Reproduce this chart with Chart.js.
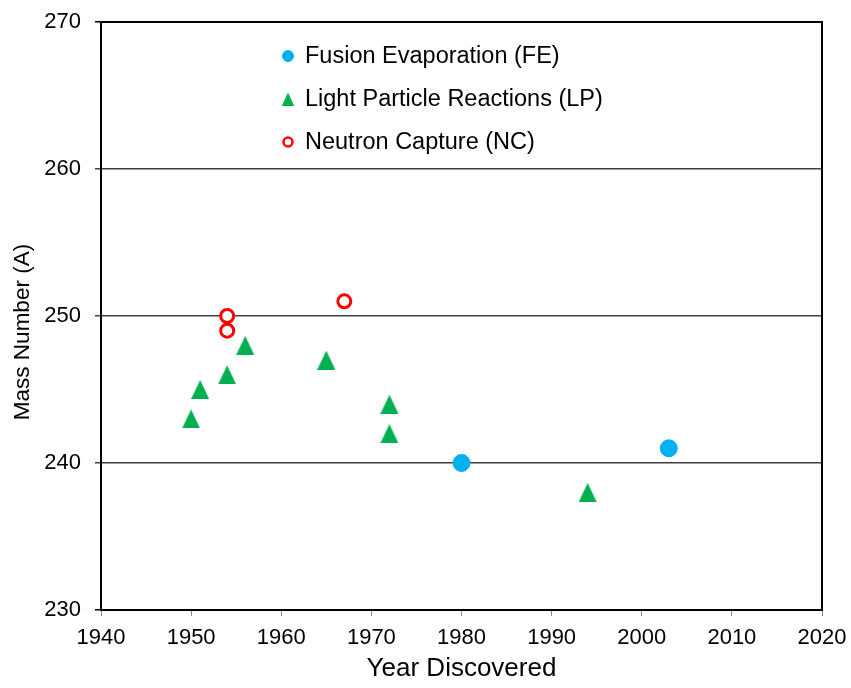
<!DOCTYPE html>
<html lang="en">
<head>
  <meta charset="UTF-8">
  <title>Mass Number vs Year Discovered</title>
  <script src="https://cdn.jsdelivr.net/npm/chart.js"></script>
  <style>
    html, body { margin: 0; padding: 0; background: #fff; }
    #wrap { width: 851px; height: 688px; }
  </style>
</head>
<body>
  <div id="wrap"><canvas id="chart"></canvas></div>
  <script>
    // Data
    const seriesNames = ['Fusion Evaporation (FE)', 'Light Particle Reactions (LP)', 'Neutron Capture (NC)'];
    const feYears = [1980, 2003];
    const feMass = [240, 241];
    const lpYears = [1950, 1951, 1954, 1956, 1965, 1972, 1972, 1994];
    const lpMass = [243, 245, 246, 248, 247, 244, 242, 238];
    const ncYears = [1954, 1954, 1967];
    const ncMass = [250, 249, 251];
    const xTicks = [1940, 1950, 1960, 1970, 1980, 1990, 2000, 2010, 2020];
    const yTicks = [230, 240, 250, 260, 270];

    const FONT = "'Liberation Sans', Arial, sans-serif";
    const toPoints = (xs, ys) => xs.map((x, i) => ({ x: x, y: ys[i] }));

    // Spreadsheet-style triangle marker (box centred, slightly taller than wide)
    function triangleMarker(w, h, color) {
      const c = document.createElement('canvas');
      c.width = w; c.height = h;
      const g = c.getContext('2d');
      g.fillStyle = color;
      g.beginPath();
      g.moveTo(w / 2, 0);
      g.lineTo(w, h);
      g.lineTo(0, h);
      g.closePath();
      g.fill();
      return c;
    }
    const lpMarker = triangleMarker(18, 19, '#00b050');
    const lpLegendMarker = triangleMarker(12, 13, '#00b050');

    // Box around the plot area + y title placed like the original
    const frame = {
      id: 'frame',
      afterDraw(chart) {
        const a = chart.chartArea, ctx = chart.ctx;
        ctx.save();
        ctx.strokeStyle = '#000';
        ctx.lineWidth = 2;
        ctx.strokeRect(a.left, a.top, a.right - a.left, a.bottom - a.top);
        ctx.translate(23, (a.top + a.bottom) / 2 + 16);
        ctx.rotate(-Math.PI / 2);
        ctx.font = '22.5px ' + FONT;
        ctx.fillStyle = '#000';
        ctx.textAlign = 'center';
        ctx.textBaseline = 'middle';
        ctx.fillText('Mass Number (A)', 0, 0);
        ctx.restore();
      }
    };

    // Legend drawn inside the plot area
    const innerLegend = {
      id: 'innerLegend',
      afterDraw(chart) {
        const ctx = chart.ctx;
        ctx.save();
        ctx.font = '23.5px ' + FONT;
        ctx.textBaseline = 'middle';
        chart.data.datasets.forEach((ds, i) => {
          const y = 56 + i * 43;
          if (i === 1) {
            ctx.drawImage(lpLegendMarker, 288 - 6, y - 6.5);
          } else {
            ctx.fillStyle = ds.pointBackgroundColor;
            ctx.strokeStyle = ds.pointBorderColor;
            ctx.lineWidth = i === 2 ? 2.5 : 1;
            Chart.helpers.drawPoint(ctx, {
              pointStyle: 'circle',
              radius: i === 2 ? 4.5 : 5.5,
              borderWidth: ctx.lineWidth,
              rotation: 0
            }, 288, y);
          }
          ctx.fillStyle = '#000';
          ctx.fillText(ds.label, 305, y + 1);
        });
        ctx.restore();
      }
    };

    new Chart(document.getElementById('chart'), {
      type: 'scatter',
      data: {
        datasets: [
          {
            label: seriesNames[0],
            data: toPoints(feYears, feMass),
            pointStyle: 'circle',
            pointRadius: 8.5,
            pointBackgroundColor: '#00b0f0',
            pointBorderColor: '#00b0f0',
            pointBorderWidth: 1
          },
          {
            label: seriesNames[1],
            data: toPoints(lpYears, lpMass),
            pointStyle: lpMarker,
            pointRadius: 9,
            pointBackgroundColor: '#00b050',
            pointBorderColor: '#00b050',
            pointBorderWidth: 0
          },
          {
            label: seriesNames[2],
            data: toPoints(ncYears, ncMass),
            pointStyle: 'circle',
            pointRadius: 6.5,
            pointBackgroundColor: '#ffffff',
            pointBorderColor: '#ff0000',
            pointBorderWidth: 3
          }
        ]
      },
      options: {
        responsive: true,
        maintainAspectRatio: false,
        animation: false,
        layout: { padding: { top: 22, right: 29, left: 0, bottom: 0 } },
        plugins: {
          legend: { display: false },
          tooltip: { enabled: false }
        },
        scales: {
          x: {
            type: 'linear',
            min: 1940,
            max: 2020,
            afterBuildTicks: axis => { axis.ticks = xTicks.map(v => ({ value: v })); },
            afterFit: axis => { axis.height = 78; axis.paddingLeft = 0; axis.paddingRight = 0; },
            ticks: { color: '#000', font: { family: FONT, size: 22 }, padding: 9, maxRotation: 0, callback: v => String(v) },
            grid: { drawOnChartArea: false, tickLength: 6, color: '#888' },
            border: { color: '#000', width: 2 },
            title: { display: true, text: 'Year Discovered', color: '#000', font: { family: FONT, size: 26 }, padding: { top: 0 } }
          },
          y: {
            type: 'linear',
            min: 230,
            max: 270,
            afterBuildTicks: axis => { axis.ticks = yTicks.map(v => ({ value: v })); },
            afterFit: axis => { axis.width = 101; axis.paddingTop = 0; axis.paddingBottom = 0; },
            ticks: { color: '#000', font: { family: FONT, size: 22 }, padding: 14, callback: v => String(v) },
            grid: {
              tickLength: 6,
              lineWidth: 1.5,
              color: c => (c.tick && (c.tick.value === 230 || c.tick.value === 270)) ? '#000' : '#404040'
            },
            border: { color: '#000', width: 2 }
          }
        }
      },
      plugins: [frame, innerLegend]
    });
  </script>
</body>
</html>
